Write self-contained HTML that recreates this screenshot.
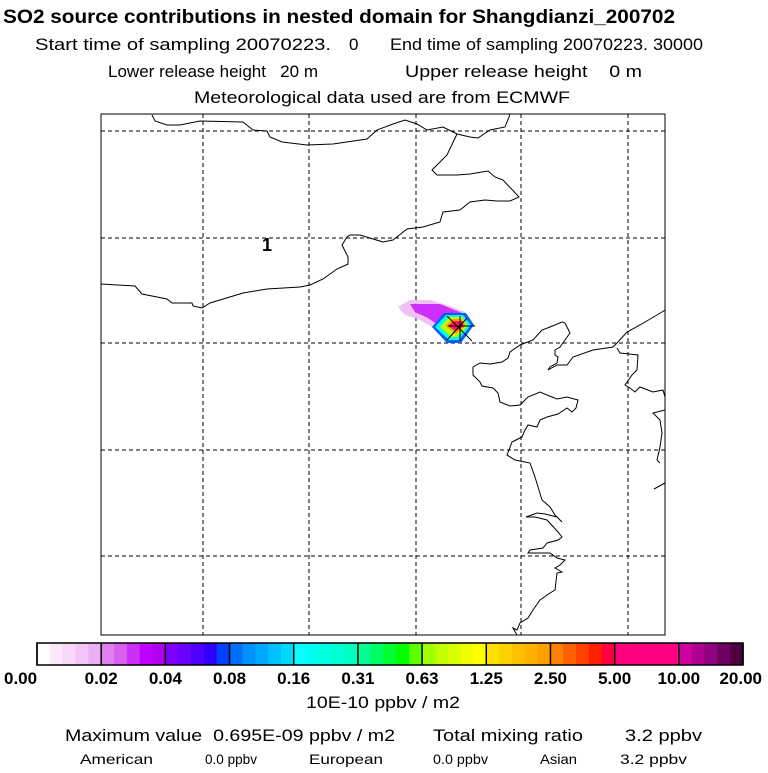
<!DOCTYPE html>
<html><head><meta charset="utf-8"><style>
body{margin:0;background:#fff;font-family:"Liberation Sans",sans-serif;}
svg text{font-family:"Liberation Sans",sans-serif;white-space:pre;}
</style></head><body>
<svg width="768" height="768" viewBox="0 0 768 768">
<g fill="#000">
<text x="3" y="23" font-size="19" font-weight="bold" textLength="672" lengthAdjust="spacingAndGlyphs">SO2 source contributions in nested domain for Shangdianzi_200702</text>
<text x="35" y="50" font-size="17" textLength="296" lengthAdjust="spacingAndGlyphs">Start time of sampling 20070223.</text>
<text x="349" y="50" font-size="17">0</text>
<text x="390" y="50" font-size="17" textLength="313" lengthAdjust="spacingAndGlyphs">End time of sampling 20070223. 30000</text>
<text x="108" y="77" font-size="17" textLength="210" lengthAdjust="spacingAndGlyphs">Lower release height   20 m</text>
<text x="405" y="77" font-size="17" textLength="237" lengthAdjust="spacingAndGlyphs">Upper release height    0 m</text>
<text x="194" y="103" font-size="17" textLength="376" lengthAdjust="spacingAndGlyphs">Meteorological data used are from ECMWF</text>
</g>
<g>
<rect x="101" y="114" width="564" height="521" fill="#fff" stroke="#000"/>
<g id="grid" stroke="#000" stroke-dasharray="4,3" stroke-width="1"></g>
<g fill="none" stroke="#000" stroke-width="1">
<path d="M152,115 L155,121 L167,125 L180,125 L200,121 L243,122 L253,130 L267,131 L270,137 L282,142 L307,145 L333,144 L367,139 L377,130 L393,124 L405,120 L417,124 L427,130 L443,127 L457,134 L470,137 L478,138 L490,130 L505,127 L509,117 L510,114"/>
<path d="M457,134 L447,155 L437,165 L432,170 L437,175 L457,175 L470,174 L488,171 L495,177 L503,180 L519,197 L510,201 L497,201 L485,200 L470,202 L460,210 L443,212 L440,222 L423,227 L407,229 L393,240 L383,242 L360,235 L350,235 L347,237 L342,245 L348,257 L348,264 L337,269 L323,279 L310,285 L300,287 L267,289 L243,293 L210,303 L202,308 L193,306 L192,303 L172,303 L167,299 L142,294 L135,286 L101,284"/>
<path d="M665,310 L662,312 L640,325 L627,332 L617,343 L613,347 L593,350 L573,357 L567,365 L557,365 L548,370 L550,367 L557,363 L558,357 L555,355 L555,350 L560,347 L570,333 L565,323 L562,322 L550,327 L542,330 L533,340 L520,345 L510,352 L508,358 L502,362 L490,364 L480,363 L473,367 L473,375 L480,382 L482,386 L493,388 L498,393 L500,402 L510,406 L520,405 L528,397 L540,392 L547,395 L557,399 L567,397 L578,400 L576,408 L572,412 L567,408 L558,414 L547,417 L540,420 L537,427 L528,425 L525,430 L522,437 L512,442 L507,455 L515,460 L530,463 L535,477 L542,500 L550,507 L555,515 L562,522 L557,517 L545,514 L537,513 L526,517 L535,517 L547,520 L558,532 L562,537 L558,540 L547,543 L543,548 L530,550 L528,553 L540,553 L550,553 L557,558 L565,560 L560,565 L555,568 L562,572 L557,573 L555,590 L550,593 L540,600 L533,610 L528,618 L520,623 L517,630 L513,628 L517,635"/>
<path d="M617,348 L620,353 L638,355 L637,370 L632,375 L625,385 L630,388 L635,392 L640,387 L653,392 L663,390 L665,397"/>
<path d="M665,410 L653,413 L660,420 L662,433 L660,447 L657,460 L660,463"/>
<path d="M654,489 L665,483"/>
</g>
<text x="262" y="251" font-size="18" font-weight="bold">1</text>
<g>
<path d="M398,307 L410,300 L430,300 L450,306 L465,312 L472,322 L462,334 L440,332 L420,320 L405,315Z" fill="#eeb0f4" opacity="0.8"/>
<path d="M410,304 L440,304 L462,313 L468,328 L445,330 L428,318 L415,312Z" fill="#c000ff" opacity="0.75"/>
<path d="M432,327 L444,313 L466,313 L474,325 L461,343 L447,343Z" fill="#0060ff"/>
<path d="M435,327 L446,315 L463,315 L471,325 L459,340 L449,340Z" fill="#00ffe0"/>
<path d="M440,327 L449,317 L462,317 L468,326 L457,337 L451,337Z" fill="#c0ff00"/>
<path d="M445,326 L452,319 L462,319 L466,326 L456,334Z" fill="#ffa000"/>
<path d="M448,326 L454,321 L462,321 L464,326 L456,331Z" fill="#ff1060"/>
<g stroke="#000" stroke-width="1"><line x1="447" y1="316" x2="472" y2="341"/><line x1="447" y1="340" x2="467" y2="318"/><line x1="460" y1="316" x2="460" y2="341"/><line x1="448" y1="326" x2="475" y2="326"/></g>
</g>
</g>
<g id="cbar"></g>
<text x="306" y="708" font-size="17" textLength="154" lengthAdjust="spacingAndGlyphs">10E-10 ppbv / m2</text>
<text x="65" y="741" font-size="17" textLength="330" lengthAdjust="spacingAndGlyphs">Maximum value  0.695E-09 ppbv / m2</text>
<text x="433" y="741" font-size="17" textLength="150" lengthAdjust="spacingAndGlyphs">Total mixing ratio</text>
<text x="625" y="741" font-size="17" textLength="77" lengthAdjust="spacingAndGlyphs">3.2 ppbv</text>
<text x="80" y="764" font-size="14" textLength="73" lengthAdjust="spacingAndGlyphs">American</text>
<text x="205" y="764" font-size="14" textLength="52" lengthAdjust="spacingAndGlyphs">0.0 ppbv</text>
<text x="309" y="764" font-size="14" textLength="74" lengthAdjust="spacingAndGlyphs">European</text>
<text x="433" y="764" font-size="14" textLength="55" lengthAdjust="spacingAndGlyphs">0.0 ppbv</text>
<text x="540" y="764" font-size="14" textLength="37" lengthAdjust="spacingAndGlyphs">Asian</text>
<text x="620" y="764" font-size="14" textLength="67" lengthAdjust="spacingAndGlyphs">3.2 ppbv</text>
</svg>
<script>
const tickLabels=["0.00","0.02","0.04","0.08","0.16","0.31","0.63","1.25","2.50","5.00","10.00","20.00"];
const segColors=[["#ffffff","#fde8fd","#f8d8f8","#f2c4f6","#eeb0f4"],["#e080f0","#d860f0","#cc30f4","#c000ff","#b000f0"],["#8000ff","#6a00ff","#5000ff","#3000ff","#0040ff"],["#0070ff","#0090ff","#00a8ff","#00c0ff","#00d8ff"],["#00ffff","#00fff0","#00ffe0","#00ffd0","#00ffc0"],["#00ff90","#00ff60","#00ff30","#00ff00","#60ff00"],["#a0ff00","#c0ff00","#d8ff00","#f0ff00","#ffff00"],["#ffe000","#ffd000","#ffc000","#ffb000","#ffa000"],["#ff8000","#ff6000","#ff4000","#ff2000","#ff0040"],["#ff0080","#ff0080","#ff0080","#ff0080","#ff0080"],["#d000a0","#b00090","#900080","#700060","#500040"]];
const NS="http://www.w3.org/2000/svg";
const g=document.getElementById('grid');
[131,238,343,450,556].forEach(y=>{const l=document.createElementNS(NS,'line');l.setAttribute('x1',101);l.setAttribute('x2',665);l.setAttribute('y1',y);l.setAttribute('y2',y);


g.appendChild(l);});
[203,309,416,521,628].forEach(x=>{const l=document.createElementNS(NS,'line');l.setAttribute('y1',114);l.setAttribute('y2',635);l.setAttribute('x1',x);l.setAttribute('x2',x);


g.appendChild(l);});
const cb=document.getElementById('cbar');
const x0=37,x1=743,y0=643,h=22,n=segColors.length,sw=(x1-x0)/n;
segColors.forEach((cols,i)=>{cols.forEach((c,j)=>{const r=document.createElementNS(NS,'rect');r.setAttribute('x',x0+i*sw+j*sw/cols.length);r.setAttribute('y',y0);r.setAttribute('width',sw/cols.length+0.5);r.setAttribute('height',h);r.setAttribute('fill',c);


cb.appendChild(r);});});
for(let i=0;i<=n;i++){const l=document.createElementNS(NS,'line');l.setAttribute('x1',x0+i*sw);l.setAttribute('x2',x0+i*sw);l.setAttribute('y1',y0);l.setAttribute('y2',y0+h);l.setAttribute('stroke','#000');l.setAttribute('stroke-width','1.5');


cb.appendChild(l);}
const fr=document.createElementNS(NS,'rect');fr.setAttribute('x',x0);fr.setAttribute('y',y0);fr.setAttribute('width',x1-x0);fr.setAttribute('height',h);fr.setAttribute('fill','none');fr.setAttribute('stroke','#000');fr.setAttribute('stroke-width','1.5');


cb.appendChild(fr);
tickLabels.forEach((t,i)=>{const tx=document.createElementNS(NS,'text');let x=x0+i*sw;let anchor='middle';if(i===0){x=4;anchor='start';}if(i===n){x=762;anchor='end';}
tx.setAttribute('x',x);tx.setAttribute('y',684);tx.setAttribute('text-anchor',anchor);tx.setAttribute('font-size','17');tx.setAttribute('font-weight','bold');tx.textContent=t;


cb.appendChild(tx);});
</script>
</body></html>
